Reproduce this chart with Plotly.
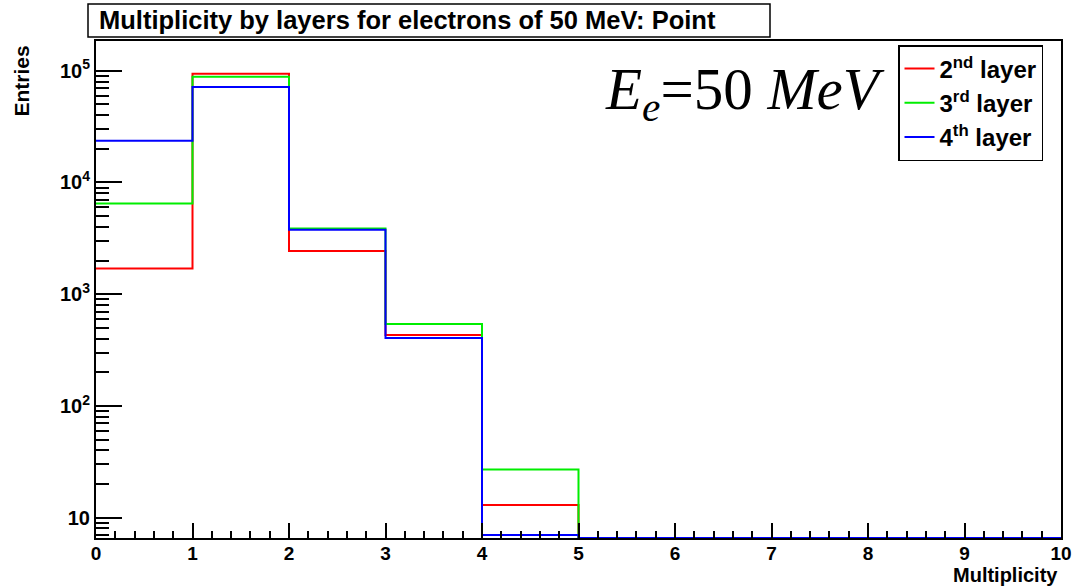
import plotly.graph_objects as go
import numpy as np

# ---- data ----
bin_edges = [0, 1, 2, 3, 4, 5, 6, 7, 8, 9, 10]
layer2 = [1700, 94000, 2430, 431, 13, 0, 0, 0, 0, 0]
layer3 = [6490, 88400, 3870, 540, 27, 0, 0, 0, 0, 0]
layer4 = [23600, 71400, 3780, 405, 7, 0, 0, 0, 0, 0]
series_names = ["2<sup>nd</sup> layer", "3<sup>rd</sup> layer", "4<sup>th</sup> layer"]
y_tickvals = [10, 100, 1000, 10000, 100000]
y_ticktext = ["10", "10<sup>2</sup>", "10<sup>3</sup>", "10<sup>4</sup>", "10<sup>5</sup>"]
x_tickvals = [0, 1, 2, 3, 4, 5, 6, 7, 8, 9, 10]

title = "Multiplicity by layers for electrons of 50 MeV: Point"

# ---- layout geometry ----
W, H = 1073, 588
ml, mr, mt, mb = 96, 12, 41, 50
PW, PH = W - ml - mr, H - mt - mb
ylog_range = [0.818, 5.266]
ymin = 10 ** ylog_range[0]


def px(xp):
    return (xp - ml) / PW


def py(yp):
    return (H - mb - yp) / PH


colors = ["#ff0000", "#00ee00", "#0000ff"]
FONT = "Liberation Sans, Arial, sans-serif"

fig = go.Figure()
for vals, name, col in zip([layer2, layer3, layer4], series_names, colors):
    yy = [v if v > 0 else ymin for v in vals]
    yy = yy + [yy[-1]]
    fig.add_trace(go.Scatter(
        x=bin_edges, y=yy, mode="lines", name=name,
        line=dict(color=col, width=2, shape="hv"),
        cliponaxis=True,
    ))

# minor tick positions for log axis
minor_vals = [m * 10 ** k for k in range(0, 6) for m in range(2, 10)]

fig.update_layout(
    width=W, height=H,
    margin=dict(l=ml, r=mr, t=mt, b=mb, autoexpand=False),
    paper_bgcolor="white", plot_bgcolor="white",
    font=dict(family=FONT, color="black"),
    showlegend=True,
    legend=dict(
        x=px(898), y=py(45),
        xanchor="left", yanchor="top",
        bgcolor="white", bordercolor="black", borderwidth=1.5,
        font=dict(size=24, weight="bold", family=FONT),
        tracegroupgap=0, itemwidth=30,
    ),
    xaxis=dict(
        range=[0, 10], showgrid=False, zeroline=False, automargin=False,
        showline=True, linecolor="black", linewidth=2, mirror=True,
        ticks="inside", ticklen=15, tickwidth=1.5, tickcolor="black",
        tickvals=x_tickvals, ticklabelstandoff=-3,
        tickfont=dict(size=19, weight="bold", family=FONT),
        minor=dict(ticks="inside", ticklen=7, tickwidth=1.5, tickcolor="black", dtick=0.2, tick0=0, showgrid=False),
    ),
    yaxis=dict(
        type="log", range=ylog_range, showgrid=False, zeroline=False, automargin=False,
        showline=True, linecolor="black", linewidth=2, mirror=True,
        ticks="inside", ticklen=26, tickwidth=1.5, tickcolor="black",
        tickvals=y_tickvals, ticktext=y_ticktext,
        tickfont=dict(size=20, weight="bold", family=FONT),
        minor=dict(ticks="inside", ticklen=13, tickwidth=1.5, tickcolor="black", tickvals=minor_vals, showgrid=False),
    ),
)

# title box
fig.add_shape(type="rect", xref="paper", yref="paper",
              x0=px(88), x1=px(770), y0=py(37), y1=py(4),
              line=dict(color="black", width=1.5), fillcolor="white", layer="above")
fig.add_annotation(text=title, xref="paper", yref="paper",
                   x=px(97), y=py(20.5),
                   xanchor="left", yanchor="middle", showarrow=False,
                   font=dict(size=25.5, weight="bold", family=FONT))

# axis titles
fig.add_annotation(text="Entries", xref="paper", yref="paper",
                   x=px(21), y=py(44),
                   xanchor="center", yanchor="top", textangle=-90, showarrow=False,
                   font=dict(size=21, weight="bold", family=FONT))
fig.add_annotation(text="Multiplicity", xref="paper", yref="paper",
                   x=px(1060), y=py(588),
                   xanchor="right", yanchor="bottom", showarrow=False,
                   font=dict(size=20, weight="bold", family=FONT))

# energy label
fig.add_annotation(text="<i>E</i><sub><i>e</i></sub>=50 <i>MeV</i>", xref="paper", yref="paper",
                   x=px(745), y=py(93),
                   xanchor="center", yanchor="middle", showarrow=False,
                   font=dict(size=59, family="Liberation Serif, serif"))

fig.write_html("out.html")
